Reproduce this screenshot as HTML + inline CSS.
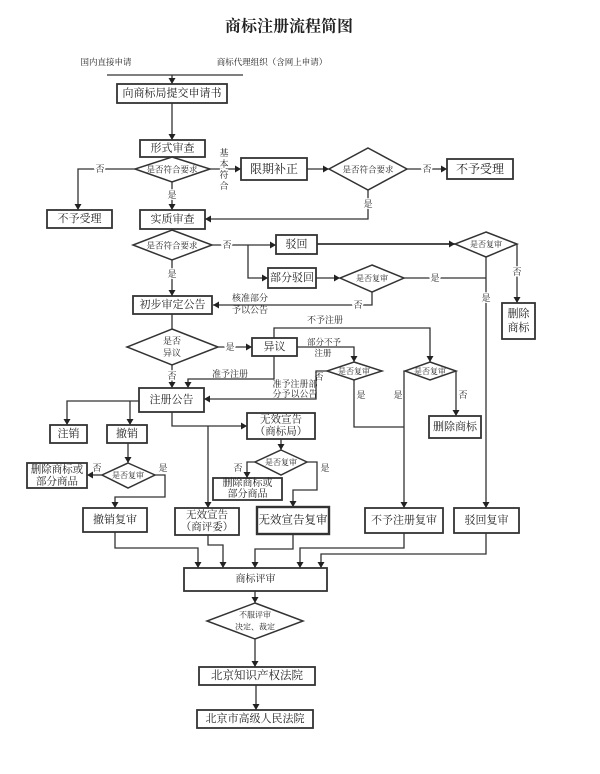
<!DOCTYPE html>
<html><head><meta charset="utf-8">
<style>
html,body{margin:0;padding:0;background:#fff;}
svg{display:block;}
text{font-family:"Liberation Serif","Noto Serif CJK SC",serif;fill:#222;text-anchor:middle;dominant-baseline:central;}
.b{fill:#fff;stroke:#333;stroke-width:1.8;}
.l{fill:none;stroke:#333;stroke-width:1.3;}
.d{fill:#fff;stroke:#333;stroke-width:1.5;}
.lb{stroke:#fff;stroke-width:3;paint-order:stroke;font-size:9px;}
.t{font-size:11px;}
.s{font-size:8.5px;}
</style></head>
<body>
<svg width="600" height="774" viewBox="0 0 600 774" xmlns="http://www.w3.org/2000/svg">
<defs>
<marker id="a" markerUnits="userSpaceOnUse" markerWidth="8" markerHeight="8" refX="6" refY="3.5" orient="auto">
<path d="M0,0 L6,3.5 L0,7 z" fill="#222"/>
</marker>
</defs>

<!-- title -->
<text x="289" y="27" style="font-size:16px;font-weight:bold;">商标注册流程简图</text>
<text x="106" y="62" style="font-size:8.5px;">国内直接申请</text>
<text x="272" y="62" style="font-size:8.5px;">商标代理组织（含网上申请）</text>
<line class="l" x1="107" y1="75" x2="243" y2="75"/>
<line class="l" x1="172" y1="75" x2="172" y2="84" marker-end="url(#a)"/>

<rect class="b" x="117" y="84" width="110" height="19"/>
<text class="t" x="172" y="93.5">向商标局提交申请书</text>
<line class="l" x1="172" y1="103" x2="172" y2="140" marker-end="url(#a)"/>

<rect class="b" x="140" y="140" width="65" height="17"/>
<text class="t" x="172.5" y="148.5">形式审查</text>
<polygon class="d" points="172,157 210,169 172,182 135,169"/>
<text class="s" x="172" y="169.5">是否符合要求</text>

<polyline class="l" points="135,169 78,169 78,210" marker-end="url(#a)"/>
<text class="lb" x="100" y="169">否</text>
<rect class="b" x="47" y="210" width="65" height="18"/>
<text class="t" x="79.5" y="219">不予受理</text>

<line class="l" x1="172" y1="182" x2="172" y2="210" marker-end="url(#a)"/>
<text class="lb" x="172" y="195">是</text>

<line class="l" x1="210" y1="169" x2="241" y2="169" marker-end="url(#a)"/>
<text class="lb" x="224" y="153">基</text>
<text class="lb" x="224" y="164">本</text>
<text class="lb" x="224" y="175">符</text>
<text class="lb" x="224" y="186">合</text>

<rect class="b" x="241" y="158" width="66" height="22"/>
<text x="274" y="169" style="font-size:12px;">限期补正</text>
<line class="l" x1="307" y1="169" x2="329" y2="169" marker-end="url(#a)"/>
<polygon class="d" points="368,148 407,169 368,190 329,169"/>
<text class="s" x="368" y="169.5">是否符合要求</text>
<line class="l" x1="407" y1="169" x2="447" y2="169" marker-end="url(#a)"/>
<text class="lb" x="427" y="169">否</text>
<rect class="b" x="447" y="159" width="66" height="20"/>
<text x="480" y="169" style="font-size:12px;">不予受理</text>
<polyline class="l" points="368,190 368,219 205,219" marker-end="url(#a)"/>
<text class="lb" x="368" y="204">是</text>

<rect class="b" x="140" y="210" width="65" height="19"/>
<text class="t" x="172.5" y="219.5">实质审查</text>
<polygon class="d" points="172,230 212,245 172,260 133,245"/>
<text class="s" x="172" y="245.5">是否符合要求</text>

<line class="l" x1="212" y1="245" x2="276" y2="245" marker-end="url(#a)"/>
<text class="lb" x="227" y="245">否</text>
<rect class="b" x="276" y="235" width="41" height="19"/>
<text class="t" x="296.5" y="244.5">驳回</text>
<polyline class="l" points="248,245 248,278 268,278" marker-end="url(#a)"/>
<rect class="b" x="268" y="268" width="48" height="20"/>
<text class="t" x="292" y="278">部分驳回</text>

<line class="l" x1="317" y1="244" x2="455" y2="244" style="stroke-width:1.8" marker-end="url(#a)"/>
<polygon class="d" points="486,232 517,244 486,257 455,244"/>
<text x="486" y="244.5" style="font-size:8px;">是否复审</text>
<line class="l" x1="517" y1="244" x2="517" y2="303" marker-end="url(#a)"/>
<text class="lb" x="517" y="272">否</text>
<rect class="b" x="502" y="303" width="33" height="36"/>
<text class="t" x="518.5" y="314">删除</text>
<text class="t" x="518.5" y="328">商标</text>
<line class="l" x1="486" y1="257" x2="486" y2="508" marker-end="url(#a)"/>
<text class="lb" x="486" y="298">是</text>

<line class="l" x1="316" y1="278" x2="340" y2="278" marker-end="url(#a)"/>
<polygon class="d" points="372,265 404,278 372,292 340,278"/>
<text x="372" y="278.5" style="font-size:8px;">是否复审</text>
<line class="l" x1="404" y1="278" x2="486" y2="278"/>
<text class="lb" x="435" y="278">是</text>
<polyline class="l" points="372,292 372,305 213,305" marker-end="url(#a)"/>
<text class="lb" x="358" y="305">否</text>
<text x="250" y="298" style="font-size:9px;">核准部分</text>
<text x="250" y="310" style="font-size:9px;">予以公告</text>

<rect class="b" x="133" y="296" width="79" height="18"/>
<text class="t" x="172.5" y="305">初步审定公告</text>
<line class="l" x1="172" y1="260" x2="172" y2="296" marker-end="url(#a)"/>
<text class="lb" x="172" y="274">是</text>

<line class="l" x1="172" y1="314" x2="172" y2="329"/>
<polygon class="d" points="172,329 218,347 172,365 127,347"/>
<text x="172" y="341" style="font-size:9px;">是否</text>
<text x="172" y="353" style="font-size:9px;">异议</text>
<line class="l" x1="218" y1="347" x2="252" y2="347" marker-end="url(#a)"/>
<text class="lb" x="230" y="347">是</text>
<rect class="b" x="252" y="338" width="45" height="18"/>
<text class="t" x="274.5" y="347">异议</text>
<line class="l" x1="172" y1="365" x2="172" y2="388" marker-end="url(#a)"/>
<text class="lb" x="172" y="376">否</text>

<polyline class="l" points="274,356 274,379 188,379 188,388" marker-end="url(#a)"/>
<text x="230" y="374" style="font-size:9px;">准予注册</text>

<polyline class="l" points="274,338 274,328 430,328 430,362" marker-end="url(#a)"/>
<text x="325" y="320" style="font-size:9px;">不予注册</text>
<polyline class="l" points="297,347 354,347 354,362" marker-end="url(#a)"/>
<text x="324" y="342" style="font-size:8.5px;">部分不予</text>
<text x="323" y="353" style="font-size:8.5px;">注册</text>

<polygon class="d" points="354,362 382,371 354,380 327,371"/>
<text x="354" y="371.5" style="font-size:8px;">是否复审</text>
<polygon class="d" points="430,362 456,371 430,380 405,371"/>
<text x="430" y="371.5" style="font-size:8px;">是否复审</text>

<polyline class="l" points="327,371 316,371 316,399 204,399" marker-end="url(#a)"/>
<text x="319" y="377" style="font-size:9px;">否</text>
<text x="295" y="384" style="font-size:9px;">准予注册部</text>
<text x="295" y="394" style="font-size:9px;">分予以公告</text>

<polyline class="l" points="354,380 354,427 404,427"/>
<text x="361" y="395" style="font-size:9px;">是</text>
<polyline class="l" points="405,371 404,371 404,508" marker-end="url(#a)"/>
<text x="398" y="395" style="font-size:9px;">是</text>
<line class="l" x1="456" y1="371" x2="456" y2="416" marker-end="url(#a)"/>
<text x="463" y="395" style="font-size:9px;">否</text>
<rect class="b" x="429" y="416" width="52" height="22"/>
<text class="t" x="455" y="427">删除商标</text>

<rect class="b" x="365" y="508" width="78" height="25"/>
<text class="t" x="404" y="520.5">不予注册复审</text>
<rect class="b" x="454" y="508" width="65" height="25"/>
<text class="t" x="486.5" y="520.5">驳回复审</text>
<polyline class="l" points="404,533 404,548 300,548 300,568" marker-end="url(#a)"/>
<polyline class="l" points="486,533 486,554 321,554 321,568" marker-end="url(#a)"/>

<!-- 注册公告 -->
<rect class="b" x="139" y="388" width="65" height="24"/>
<text class="t" x="171.5" y="400">注册公告</text>
<polyline class="l" points="139,401 67,401 67,425" marker-end="url(#a)"/>
<line class="l" x1="130" y1="401" x2="130" y2="425" marker-end="url(#a)"/>
<rect class="b" x="50" y="425" width="37" height="18"/>
<text class="t" x="68.5" y="434">注销</text>
<rect class="b" x="107" y="425" width="40" height="18"/>
<text class="t" x="127" y="434">撤销</text>
<line class="l" x1="128" y1="443" x2="128" y2="463" marker-end="url(#a)"/>
<polygon class="d" points="128,463 155,475 128,488 102,475"/>
<text x="128" y="475.5" style="font-size:8px;">是否复审</text>
<line class="l" x1="102" y1="475" x2="87" y2="475" marker-end="url(#a)"/>
<text x="97" y="468" style="font-size:9px;">否</text>
<rect class="b" x="27" y="463" width="60" height="25"/>
<text x="57" y="470" style="font-size:10.5px;">删除商标或</text>
<text x="57" y="482" style="font-size:10.5px;">部分商品</text>
<polyline class="l" points="155,475 165,475 165,497 115,497 115,508" marker-end="url(#a)"/>
<text x="163" y="468" style="font-size:9px;">是</text>
<rect class="b" x="83" y="508" width="64" height="24"/>
<text class="t" x="115" y="520">撤销复审</text>
<polyline class="l" points="115,532 115,548 198,548 198,568" marker-end="url(#a)"/>

<polyline class="l" points="172,412 172,426 247,426" marker-end="url(#a)"/>
<line class="l" x1="208" y1="426" x2="208" y2="508" marker-end="url(#a)"/>
<rect class="b" x="247" y="413" width="68" height="26"/>
<text x="281" y="420" style="font-size:10.5px;">无效宣告</text>
<text x="281" y="432" style="font-size:10.5px;">（商标局）</text>
<line class="l" x1="281" y1="439" x2="281" y2="450" marker-end="url(#a)"/>
<polygon class="d" points="281,450 307,462 281,475 255,462"/>
<text x="281" y="462.5" style="font-size:8px;">是否复审</text>
<polyline class="l" points="255,462 247,462 247,478" marker-end="url(#a)"/>
<text x="238" y="468" style="font-size:9px;">否</text>
<rect class="b" x="213" y="478" width="69" height="22"/>
<text x="247.5" y="483.5" style="font-size:10px;">删除商标或</text>
<text x="247.5" y="494.5" style="font-size:10px;">部分商品</text>
<polyline class="l" points="307,462 317,462 317,490 293,490 293,507" marker-end="url(#a)"/>
<text x="325" y="468" style="font-size:9px;">是</text>
<rect class="b" x="257" y="507" width="72" height="27" style="stroke-width:2.4"/>
<text x="293" y="520.5" style="font-size:11.5px;">无效宣告复审</text>
<polyline class="l" points="293,534 293,549 255,549 255,568" marker-end="url(#a)"/>

<rect class="b" x="175" y="508" width="64" height="27"/>
<text x="207" y="515.5" style="font-size:10.5px;">无效宣告</text>
<text x="207" y="527.5" style="font-size:10.5px;">（商评委）</text>
<polyline class="l" points="208,535 208,545 223,545 223,568" marker-end="url(#a)"/>

<rect class="b" x="184" y="568" width="143" height="23"/>
<text x="255.5" y="579.5" style="font-size:10px;">商标评审</text>
<line class="l" x1="255" y1="591" x2="255" y2="603" marker-end="url(#a)"/>
<polygon class="d" points="255,603 303,621 255,639 207,621"/>
<text x="255" y="615" style="font-size:8px;">不服评审</text>
<text x="255" y="627" style="font-size:8px;">决定、裁定</text>
<line class="l" x1="255" y1="639" x2="255" y2="667" marker-end="url(#a)"/>
<rect class="b" x="199" y="667" width="116" height="18"/>
<text x="257" y="676" style="font-size:11.5px;">北京知识产权法院</text>
<line class="l" x1="256" y1="685" x2="256" y2="710" marker-end="url(#a)"/>
<rect class="b" x="197" y="710" width="116" height="18"/>
<text x="255" y="719" style="font-size:11px;">北京市高级人民法院</text>
</svg>
</body></html>
